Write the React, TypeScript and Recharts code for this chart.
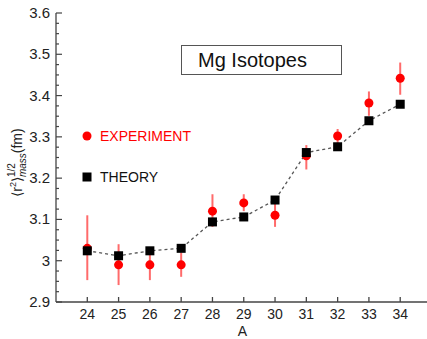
import React from 'react'
import { ComposedChart, Line, Scatter, ErrorBar, XAxis, YAxis, Legend } from 'recharts'

// mass numbers of the isotopes
const massNumbers = [24, 25, 26, 27, 28, 29, 30, 31, 32, 33, 34]
// experimental radii (fm) and error bar ends
const expRadius = [3.03, 2.99, 2.99, 2.99, 3.12, 3.14, 3.11, 3.254, 3.302, 3.382, 3.442]
const expLow = [2.953, 2.941, 2.953, 2.961, 3.082, 3.12, 3.082, 3.221, 3.285, 3.351, 3.402]
const expHigh = [3.11, 3.04, 3.025, 3.02, 3.161, 3.161, 3.14, 3.28, 3.319, 3.41, 3.48]
// theory radii (fm)
const theoryRadius = [3.024, 3.012, 3.024, 3.03, 3.094, 3.106, 3.147, 3.262, 3.276, 3.339, 3.379]

const xTicks = [24, 25, 26, 27, 28, 29, 30, 31, 32, 33, 34]
const yMajorTicks = [2.9, 3, 3.1, 3.2, 3.3, 3.4, 3.5, 3.6]
const yAllTicks = [
  2.9, 2.925, 2.95, 2.975, 3, 3.025, 3.05, 3.075, 3.1, 3.125, 3.15, 3.175, 3.2, 3.225,
  3.25, 3.275, 3.3, 3.325, 3.35, 3.375, 3.4, 3.425, 3.45, 3.475, 3.5, 3.525, 3.55, 3.575, 3.6,
]

const FONT = '"Liberation Sans", Arial, Helvetica, sans-serif'
const AXIS = '#444'

const expData = massNumbers.map((a, i) => ({
  a,
  exp: expRadius[i],
  err: [expRadius[i] - expLow[i], expHigh[i] - expRadius[i]],
}))
const theoryData = massNumbers.map((a, i) => ({ a, theory: theoryRadius[i] }))

const isMajor = (v: number) => yMajorTicks.some(m => Math.abs(m - v) < 1e-6)

const BottomTick = (props: any) => {
  const { x, y, payload } = props
  return (
    <g>
      <line x1={x} x2={x} y1={y} y2={y - 5} stroke={AXIS} strokeWidth={1.3} />
      <text x={x} y={y + 17} textAnchor="middle" fontSize={14} fontFamily={FONT} fill="#222">
        {payload.value}
      </text>
    </g>
  )
}

const TopTick = (props: any) => {
  const { x, y } = props
  return <line x1={x} x2={x} y1={y} y2={y + 5} stroke={AXIS} strokeWidth={1.3} />
}

const LeftTick = (props: any) => {
  const { x, y, payload } = props
  const major = isMajor(payload.value)
  return (
    <g>
      <line x1={x} x2={x + (major ? 6 : 3)} y1={y} y2={y} stroke={AXIS} strokeWidth={1.2} />
      {major && (
        <text x={x - 6} y={y + 5} textAnchor="end" fontSize={15} fontFamily={FONT} fill="#222">
          {String(Number(payload.value.toFixed(2)))}
        </text>
      )}
    </g>
  )
}

const RightTick = (props: any) => {
  const { x, y } = props
  return <line x1={x} x2={x - 5} y1={y} y2={y} stroke={AXIS} strokeWidth={1.2} />
}

const XLabel = (props: any) => {
  const vb = props.viewBox
  return (
    <text x={vb.x + vb.width / 2} y={vb.y + 34} textAnchor="middle" fontSize={14} fontFamily={FONT} fill="#222">
      A
    </text>
  )
}

const YLabel = (props: any) => {
  const vb = props.viewBox
  const cy = vb.y + vb.height / 2 + 5
  const cx = 22
  return (
    <text
      x={cx}
      y={cy}
      transform={`rotate(-90 ${cx} ${cy})`}
      textAnchor="middle"
      fontSize={14}
      fontFamily={FONT}
      fill="#222"
    >
      <tspan>⟨r</tspan>
      <tspan fontSize={9} dy={-6}>2</tspan>
      <tspan dy={6}>⟩</tspan>
      <tspan fontSize={10} dy={-7}>1/2</tspan>
      <tspan fontSize={10} fontStyle="italic" dx={-14} dy={11}>mass</tspan>
      <tspan dy={-4}>(fm)</tspan>
    </text>
  )
}

const Circle = (props: any) => <circle cx={props.cx} cy={props.cy} r={4.5} fill="#ff0000" />

const Square = (props: any) => {
  const { cx, cy } = props
  if (cx == null || cy == null) return null
  return <rect x={cx - 4.5} y={cy - 4.5} width={9} height={9} fill="#000" />
}

const LegendBox = () => (
  <div style={{ fontFamily: FONT, fontSize: 14 }}>
    <div style={{ display: 'flex', alignItems: 'center', height: 20, color: '#ff0000' }}>
      <svg width={14} height={14} style={{ marginRight: 6 }}>
        <circle cx={7} cy={7} r={4.5} fill="#ff0000" />
      </svg>
      EXPERIMENT
    </div>
    <div style={{ display: 'flex', alignItems: 'center', height: 20, marginTop: 21, color: '#111' }}>
      <svg width={14} height={14} style={{ marginRight: 6 }}>
        <rect x={2.5} y={2.5} width={9} height={9} fill="#000" />
      </svg>
      THEORY
    </div>
  </div>
)

export default function App() {
  return (
    <div style={{ position: 'absolute', left: 0, top: 0, width: 427, height: 339, overflow: 'hidden', background: '#fff' }}>
      <ComposedChart
        width={440}
        height={339}
        data={theoryData}
        margin={{ top: 13, right: 11, left: 0, bottom: 0 }}
      >
        <XAxis
          dataKey="a"
          type="number"
          domain={[23, 34.92]}
          ticks={xTicks}
          allowDataOverflow
          height={37}
          tickSize={0}
          tickMargin={0}
          tick={<BottomTick />}
          axisLine={{ stroke: AXIS, strokeWidth: 1.3 }}
          label={{ content: <XLabel /> }}
        />
        <XAxis
          xAxisId="top"
          orientation="top"
          dataKey="a"
          type="number"
          domain={[23, 34.92]}
          ticks={xTicks}
          allowDataOverflow
          height={0}
          tickSize={0}
          tickMargin={0}
          tick={<TopTick />}
          axisLine={{ stroke: AXIS, strokeWidth: 1.3 }}
        />
        <YAxis
          type="number"
          domain={[2.9, 3.6]}
          ticks={yAllTicks}
          interval={0}
          allowDataOverflow
          width={56}
          tickSize={0}
          tickMargin={0}
          tick={<LeftTick />}
          axisLine={{ stroke: AXIS, strokeWidth: 1.3 }}
          label={{ content: <YLabel /> }}
        />
        <YAxis
          yAxisId="right"
          orientation="right"
          type="number"
          domain={[2.9, 3.6]}
          ticks={yMajorTicks}
          interval={0}
          allowDataOverflow
          width={0}
          tickSize={0}
          tickMargin={0}
          tick={<RightTick />}
          axisLine={{ stroke: AXIS, strokeWidth: 1.3 }}
        />
        <Legend
          layout="horizontal"
          verticalAlign="middle"
          align="center"
          content={<LegendBox />}
          wrapperStyle={{ left: 80, top: 126, width: 130 }}
        />
        <Scatter data={expData} dataKey="exp" shape={<Circle />} isAnimationActive={false}>
          <ErrorBar dataKey="err" direction="y" width={0} stroke="#ff6b6b" strokeWidth={2} />
        </Scatter>
        <Line
          dataKey="theory"
          type="linear"
          stroke="#555"
          strokeWidth={1.3}
          strokeDasharray="3 3"
          dot={<Square />}
          activeDot={false}
          isAnimationActive={false}
        />
      </ComposedChart>
      <div
        style={{
          position: 'absolute',
          left: 181,
          top: 45,
          width: 143,
          height: 28,
          border: '1px solid #555',
          fontFamily: FONT,
          fontSize: 20,
          lineHeight: '28px',
          paddingLeft: 16,
          boxSizing: 'content-box',
          color: '#111',
          background: '#fff',
        }}
      >
        Mg Isotopes
      </div>
    </div>
  )
}
